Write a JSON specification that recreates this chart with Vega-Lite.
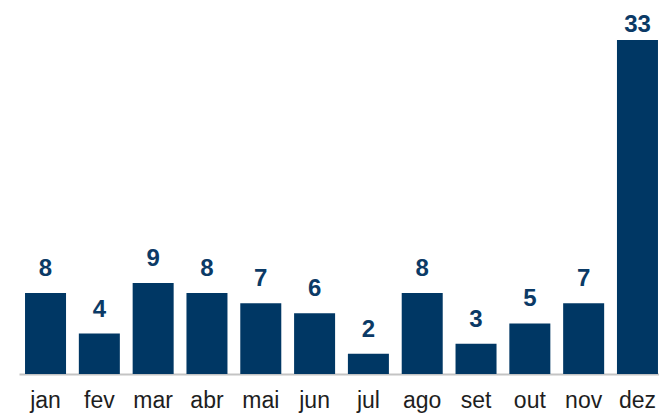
{
  "$schema": "https://vega.github.io/schema/vega-lite/v6.json",
  "width": 640,
  "height": 334,
  "autosize": {"type": "none"},
  "padding": {"left": 19, "right": 0, "top": 40, "bottom": 40},
  "background": "white",
  "config": {"view": {"stroke": null}},
  "data": {
    "values": [
      {"mes": "jan", "valor": 8},
      {"mes": "fev", "valor": 4},
      {"mes": "mar", "valor": 9},
      {"mes": "abr", "valor": 8},
      {"mes": "mai", "valor": 7},
      {"mes": "jun", "valor": 6},
      {"mes": "jul", "valor": 2},
      {"mes": "ago", "valor": 8},
      {"mes": "set", "valor": 3},
      {"mes": "out", "valor": 5},
      {"mes": "nov", "valor": 7},
      {"mes": "dez", "valor": 33}
    ]
  },
  "encoding": {
    "x": {
      "field": "mes",
      "type": "nominal",
      "sort": null,
      "scale": {"range": [0, 645], "paddingInner": 0.238, "paddingOuter": 0.112},
      "axis": {
        "title": null,
        "labelAngle": 0,
        "ticks": false,
        "tickSize": 0,
        "labelPadding": 33,
        "labelBaseline": "alphabetic",
        "labelFont": "Liberation Sans",
        "labelFontSize": 23,
        "labelColor": "#1e1e1e",
        "domainColor": "#c4c4c4",
        "domainWidth": 2,
        "grid": false
      }
    },
    "y": {
      "field": "valor",
      "type": "quantitative",
      "scale": {"domain": [0, 33], "nice": false},
      "axis": null
    }
  },
  "layer": [
    {"mark": {"type": "bar", "color": "#003764"}},
    {
      "transform": [{"filter": "datum.valor < 30"}],
      "mark": {
        "type": "text",
        "baseline": "bottom",
        "dy": -12,
        "font": "Liberation Sans",
        "fontWeight": "bold",
        "fontSize": 24,
        "color": "#0b3a66"
      },
      "encoding": {"text": {"field": "valor", "type": "quantitative"}}
    },
    {
      "transform": [{"filter": "datum.valor >= 30"}],
      "mark": {
        "type": "text",
        "baseline": "bottom",
        "dy": -3,
        "font": "Liberation Sans",
        "fontWeight": "bold",
        "fontSize": 24,
        "color": "#0b3a66"
      },
      "encoding": {"text": {"field": "valor", "type": "quantitative"}}
    }
  ]
}
